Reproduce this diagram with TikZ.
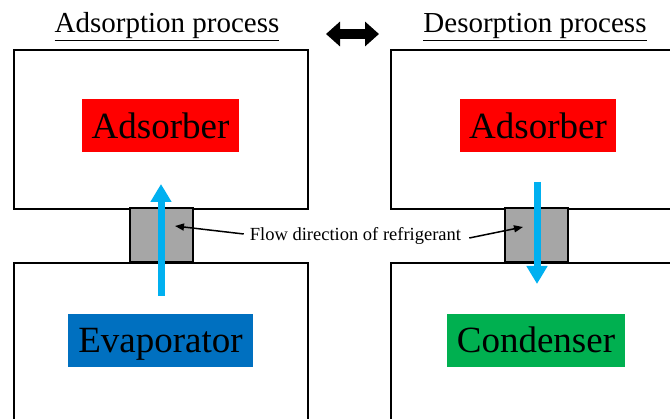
\documentclass[tikz,border=0pt]{standalone}
\usepackage{fontspec}
\setmainfont{Liberation Serif}
\usetikzlibrary{arrows.meta}
\definecolor{flowblue}{RGB}{0,176,240}
\definecolor{evapblue}{RGB}{0,112,192}
\definecolor{condgreen}{RGB}{0,176,80}
\definecolor{pipegray}{RGB}{166,166,166}
\tikzset{
  vessel/.style={draw=black, line width=2pt, fill=white, anchor=north west, inner sep=0pt},
  pipe/.style={draw=black, line width=1.6pt, fill=pipegray, anchor=north west, inner sep=0pt,
               minimum width=63pt, minimum height=54pt},
  unitlabel/.style={minimum width=#1, minimum height=53pt, inner sep=0pt,
                    text height=25pt, text depth=0pt,
                    font=\fontsize{37}{40}\selectfont},
  title/.style={font=\fontsize{29}{31}\selectfont, inner sep=0pt, anchor=base},
  flow/.style={draw=flowblue, line width=7pt, -{Triangle[width=20pt,length=18pt]}},
  pointer/.style={draw=black, line width=1.5pt, -{Triangle[width=7pt,length=9pt]}},
  switch/.style={draw=black, line width=10pt,
                 {Triangle[width=24pt,length=14pt]}-{Triangle[width=24pt,length=14pt]}},
}
\begin{document}
\begin{tikzpicture}[x=1pt,y=-1pt]
\useasboundingbox (0,0) rectangle (670,419);
\clip (0,0) rectangle (670,419);

% vessels: adsorbers on top, evaporator / condenser below
\node[vessel, minimum width=294pt, minimum height=159pt] (adsL) at (13,49) {};
\node[vessel, minimum width=300pt, minimum height=159pt] (adsR) at (390,49) {};
\node[vessel, minimum width=294pt, minimum height=180pt] (evap) at (13,262) {};
\node[vessel, minimum width=300pt, minimum height=180pt] (cond) at (390,262) {};

% connecting pipes
\node[pipe] (pipeL) at (129,207) {};
\node[pipe] (pipeR) at (504,207) {};

% component labels
\node[unitlabel=157pt, fill=red] (lblA1) at (160.5,126) {Adsorber};
\node[unitlabel=156pt, fill=red] (lblA2) at (538,126) {Adsorber};
\node[unitlabel=185pt, fill=evapblue] (lblE) at (160.5,340.5) {Evaporator};
\node[unitlabel=178pt, fill=condgreen] (lblC) at (536,340.5) {Condenser};

% process titles and the switching arrow
\node[title] (tA) at (167,33) {\underline{Adsorption process}};
\node[title] (tD) at (535,33) {\underline{Desorption process}};
\coordinate (swA) at (326,34);
\coordinate (swD) at (379,34);
\draw[switch] (swA) -- (swD);

% refrigerant flow
\coordinate (upS) at (161,296);
\coordinate (upE) at (161,184);
\coordinate (dnS) at (537,182);
\coordinate (dnE) at (537,284);
\draw[flow] (upS) -- (upE);
\draw[flow] (dnS) -- (dnE);

% annotation
\node[font=\fontsize{18.5}{20}\selectfont, inner sep=0pt] (note) at (355.5,236) {Flow direction of refrigerant};
\coordinate (tipL) at (175,226);
\coordinate (tipR) at (523,227);
\draw[pointer] (note.west) ++(-6,-2) -- (tipL);
\draw[pointer] (note.east) ++(8,2) -- (tipR);
\end{tikzpicture}
\end{document}
